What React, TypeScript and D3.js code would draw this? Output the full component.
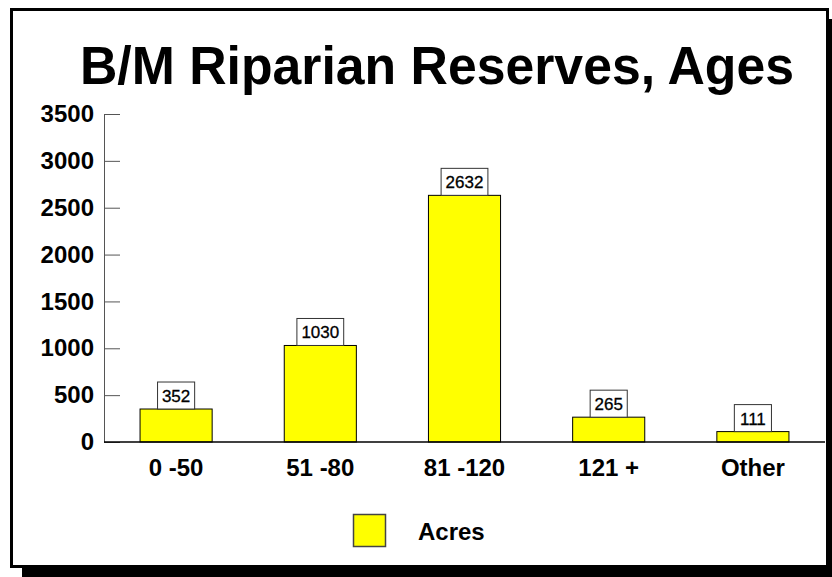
import React, { useEffect, useRef } from 'react'
import * as d3 from 'd3'

const categories = ['0 -50', '51 -80', '81 -120', '121 +', 'Other']
const acres = [352, 1030, 2632, 265, 111]
const yTicks = [0, 500, 1000, 1500, 2000, 2500, 3000, 3500]
const seriesName = 'Acres'
const title = 'B/M Riparian Reserves, Ages'

const W = 832
const H = 577
const FONT = 'Arial, "Liberation Sans", Helvetica, sans-serif'

export default function App() {
  const svgRef = useRef<SVGSVGElement | null>(null)

  useEffect(() => {
    if (!svgRef.current) return
    const svg = d3.select(svgRef.current)
    svg.selectAll('*').remove()

    // frame with drop shadow
    svg.append('rect')
      .attr('x', 22).attr('y', 19).attr('width', 816).attr('height', 560)
      .attr('fill', '#000')
    svg.append('rect')
      .attr('x', 11.5).attr('y', 9.5).attr('width', 816).attr('height', 557)
      .attr('fill', '#fff').attr('stroke', '#000').attr('stroke-width', 3)

    svg.append('text')
      .attr('x', 437).attr('y', 84)
      .attr('text-anchor', 'middle')
      .attr('font-family', FONT).attr('font-weight', 'bold').attr('font-size', 54)
      .attr('textLength', 714).attr('lengthAdjust', 'spacingAndGlyphs')
      .text(title)

    const left = 104, right = 825, top = 114, bottom = 442

    const x = d3.scaleBand<string>()
      .domain(categories)
      .range([left, right])
      .paddingInner(0.5)
      .paddingOuter(0.25)

    const y = d3.scaleLinear()
      .domain([0, 3500])
      .range([bottom, top])

    const yAxis = svg.append('g')
      .attr('transform', `translate(${left},0)`)
      .call(d3.axisLeft(y).tickValues(yTicks).tickFormat(d3.format('d'))
        .tickSizeInner(-16).tickSizeOuter(0).tickPadding(10))
    yAxis.select('.domain').attr('stroke', '#555')
    yAxis.selectAll('.tick line').attr('stroke', '#555')
    yAxis.selectAll('.tick text')
      .attr('font-family', FONT).attr('font-weight', 'bold').attr('font-size', 24)
      .attr('fill', '#000')

    // bars
    svg.append('g').selectAll('rect')
      .data(acres)
      .enter().append('rect')
        .attr('x', (d, i) => x(categories[i]) as number)
        .attr('y', d => y(d))
        .attr('width', x.bandwidth())
        .attr('height', d => y(0) - y(d))
        .attr('fill', '#ffff00')
        .attr('stroke', '#000')
        .attr('stroke-width', 1)

    // baseline
    svg.append('line')
      .attr('x1', left).attr('x2', right)
      .attr('y1', y(0)).attr('y2', y(0))
      .attr('stroke', '#000').attr('stroke-width', 1.5)

    // value boxes
    const lab = svg.append('g').selectAll('g')
      .data(acres)
      .enter().append('g')
    lab.append('rect')
      .attr('x', (d, i) => (x(categories[i]) as number) + x.bandwidth() / 2 - (String(d).length * 9.7 + 8) / 2)
      .attr('y', d => y(d) - 27)
      .attr('width', d => String(d).length * 9.7 + 8)
      .attr('height', 27)
      .attr('fill', '#fff')
      .attr('stroke', '#333')
      .attr('stroke-width', 1)
    lab.append('text')
      .attr('x', (d, i) => (x(categories[i]) as number) + x.bandwidth() / 2)
      .attr('y', d => y(d) - 7)
      .attr('text-anchor', 'middle')
      .attr('font-family', FONT).attr('font-size', 17).attr('font-weight', 500)
      .attr('stroke', '#000').attr('stroke-width', 0.3)
      .text(d => d)

    // category labels
    svg.append('g').selectAll('text')
      .data(categories)
      .enter().append('text')
        .attr('x', d => (x(d) as number) + x.bandwidth() / 2)
        .attr('y', 476)
        .attr('text-anchor', 'middle')
        .attr('font-family', FONT).attr('font-weight', 'bold').attr('font-size', 24)
        .text(d => d)

    // legend
    svg.append('rect')
      .attr('x', 353.5).attr('y', 514.5).attr('width', 32).attr('height', 32)
      .attr('fill', '#ffff00').attr('stroke', '#444').attr('stroke-width', 1.5)
    svg.append('text')
      .attr('x', 418).attr('y', 540)
      .attr('font-family', FONT).attr('font-weight', 'bold').attr('font-size', 24)
      .text(seriesName)
  }, [])

  return (
    <svg ref={svgRef} width={W} height={H}
      style={{ position: 'absolute', left: 0, top: 0, background: '#fff' }} />
  )
}
